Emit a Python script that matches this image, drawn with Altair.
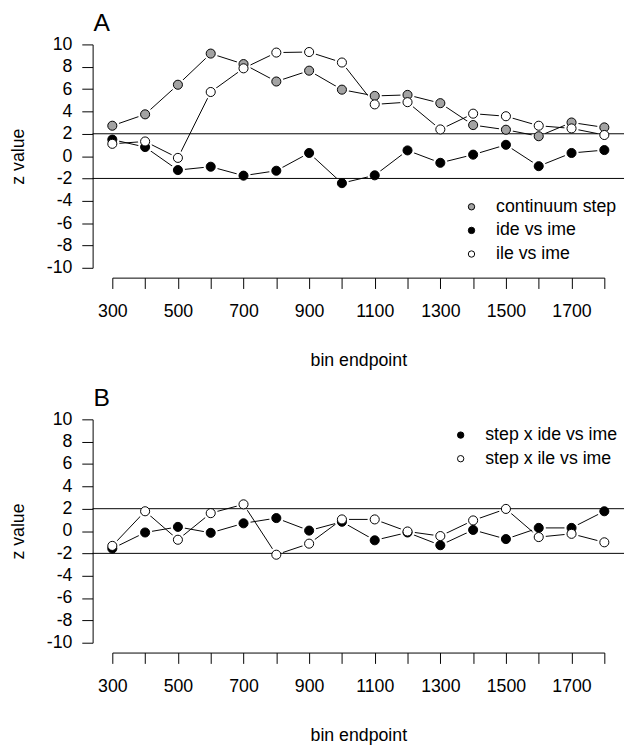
import altair as alt
import pandas as pd

bins = [300, 400, 500, 600, 700, 800, 900, 1000, 1100, 1200, 1300, 1400, 1500, 1600, 1700, 1800]

# Panel A
continuum_step = [2.72, 3.74, 6.39, 9.18, 8.24, 6.68, 7.65, 5.95, 5.39, 5.48, 4.74, 2.78, 2.36, 1.78, 3.01, 2.57]
ide_vs_ime = [1.48, 0.81, -1.25, -0.95, -1.75, -1.31, 0.28, -2.42, -1.72, 0.51, -0.60, 0.13, 1.01, -0.90, 0.28, 0.54]
ile_vs_ime = [1.10, 1.31, -0.16, 5.74, 7.86, 9.27, 9.32, 8.38, 4.63, 4.83, 2.39, 3.80, 3.57, 2.72, 2.48, 1.89]

# Panel B
step_x_ide_vs_ime = [-1.57, -0.13, 0.37, -0.16, 0.69, 1.16, 0.04, 0.83, -0.83, -0.13, -1.27, 0.10, -0.72, 0.28, 0.28, 1.77]
step_x_ile_vs_ime = [-1.33, 1.77, -0.78, 1.60, 2.39, -2.12, -1.13, 1.04, 1.04, -0.04, -0.45, 0.95, 1.98, -0.54, -0.25, -1.01]

names_a = ["continuum step", "ide vs ime", "ile vs ime"]
fills_a = ["#a3a3a3", "black", "white"]
names_b = ["step x ide vs ime", "step x ile vs ime"]
fills_b = ["black", "white"]

thresholds = [2, -2]
y_ticks = [-10, -8, -6, -4, -2, 0, 2, 4, 6, 8, 10]
x_ticks = bins
x_labels_shown = [300, 500, 700, 900, 1100, 1300, 1500, 1700]

FONT = "Liberation Sans"
FS = 18
W, H = 500, 227
OFF_Y = 20


def panel(names, values, fills, letter, leg_x, leg_y):
    rows = []
    for n, vals in zip(names, values):
        for b, v in zip(bins, vals):
            rows.append({"bin": b, "z": v, "series": n})
    df = pd.DataFrame(rows)

    label_expr = ("indexof([" + ",".join(str(v) for v in x_labels_shown)
                  + "], datum.value) >= 0 ? '' + datum.value : ''")
    x = alt.X(
        "bin:Q",
        scale=alt.Scale(domain=[300, 1800], nice=False, zero=False),
        axis=alt.Axis(
            values=x_ticks, labelExpr=label_expr, offset=10, tickSize=11,
            labelPadding=15, labelOverlap=False, labelFlush=False,
            title="bin endpoint", titlePadding=31,
        ),
    )
    y = alt.Y(
        "z:Q",
        scale=alt.Scale(domain=[-10, 10], nice=False),
        axis=alt.Axis(
            values=y_ticks, labelExpr="'' + datum.value", offset=OFF_Y, tickSize=11,
            labelPadding=10, labelOverlap=False, labelFlush=False,
            title="z value", titlePadding=19,
        ),
    )

    base = alt.Chart(df)
    lines = base.mark_line(color="black", strokeWidth=1).encode(x=x, y=y, detail="series:N")
    halos = base.mark_circle(color="white", opacity=1, size=210).encode(x=x, y=y)
    rules = alt.Chart(pd.DataFrame({"z": thresholds})).mark_rule(color="black", strokeWidth=1).encode(
        y=y, x=alt.value(-OFF_Y), x2=alt.value(W + 20)
    )
    pts = base.mark_point(shape="circle", filled=True, size=85, stroke="black", strokeWidth=1, opacity=1).encode(
        x=x, y=y,
        fill=alt.Fill(
            "series:N",
            scale=alt.Scale(domain=names, range=fills),
            legend=alt.Legend(
                title=None, orient="none", legendX=leg_x, legendY=leg_y,
                labelFontSize=FS, labelFont=FONT, labelOffset=16, rowPadding=6,
                symbolType="circle", symbolSize=42, symbolStrokeColor="black",
                symbolStrokeWidth=1, padding=0,
            ),
        ),
    )
    tag = alt.Chart(pd.DataFrame({"label": [letter]})).mark_text(
        align="left", baseline="alphabetic", fontSize=25, font=FONT, color="black"
    ).encode(text="label:N", x=alt.value(-19), y=alt.value(-14))
    return alt.layer(lines, halos, rules, pts, tag).properties(width=W, height=H)


pa = panel(names_a, [continuum_step, ide_vs_ime, ile_vs_ime], fills_a, "A", 356, 156)
pb = panel(names_b, [step_x_ide_vs_ime, step_x_ile_vs_ime], fills_b, "B", 345, 7)

chart = alt.vconcat(pa, pb, spacing=17).resolve_scale(fill="independent").resolve_legend(
    fill="independent"
).configure_view(stroke=None).configure_axis(
    grid=False, domainColor="black", tickColor="black", labelColor="black", titleColor="black",
    labelFont=FONT, titleFont=FONT, labelFontSize=FS, titleFontSize=FS, titleFontWeight="normal",
    domainWidth=1, tickWidth=1,
).properties(
    background="white", padding={"left": 1, "top": -3, "right": 0, "bottom": 0}
)

chart.save("out.html", embed_options={"renderer": "svg", "actions": False})
